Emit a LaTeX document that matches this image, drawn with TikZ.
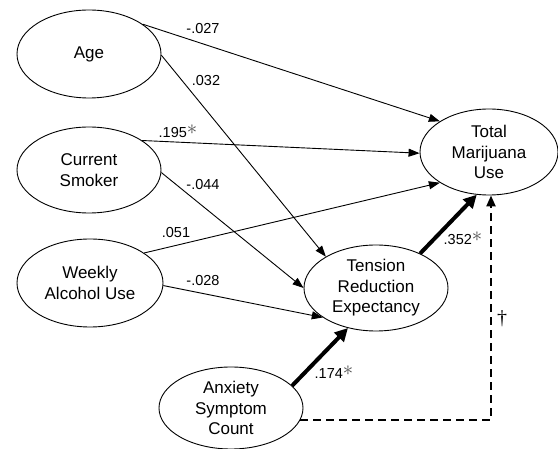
\documentclass[tikz,border=0pt]{standalone}
\usepackage{fontspec}
\setmainfont{Liberation Sans}
\newfontfamily\daggerfont{Liberation Serif}
\usetikzlibrary{shapes.geometric,arrows.meta}
\newcommand{\sigstar}{\textcolor{black!70}{\raisebox{2.5pt}{\fontsize{21}{21}\selectfont$\ast$}}}
\begin{document}
\begin{tikzpicture}[x=1pt,y=-1pt,
  var/.style={ellipse,draw,line width=0.9pt,inner sep=0pt,align=center,
    font=\fontsize{17}{20.5}\selectfont},
  path1/.style={line width=0.9pt,-{Triangle[length=11pt,width=8pt]}},
  path2/.style={line width=4pt,-{Triangle[length=13pt,width=13pt]}},
  dpath/.style={line width=2.2pt,dash pattern=on 8pt off 5pt,-{Triangle[length=11pt,width=9pt]}},
  lab/.style={font=\fontsize{14.5}{17}\selectfont,inner sep=0pt}]
\useasboundingbox (0,0) rectangle (558,449);
\node[var,minimum width=144,minimum height=88] (age) at (89,54) {Age};
\node[var,minimum width=144,minimum height=86] (smoker) at (89,170) {Current\\Smoker};
\node[var,minimum width=146,minimum height=88] (alcohol) at (90,283) {Weekly\\Alcohol Use};
\node[var,minimum width=144,minimum height=82] (anxiety) at (231,408) {Anxiety\\Symptom\\Count};
\node[var,minimum width=144,minimum height=86] (tension) at (376,288) {Tension\\Reduction\\Expectancy};
\node[var,minimum width=138,minimum height=86] (total) at (489,152) {Total\\Marijuana\\Use};

\draw[path1] (age.29) -- (total.148);
\draw[path1] (age.-1) -- (tension.148);
\draw[path1] (smoker.29) -- (total.181);
\draw[path1] (smoker.-2) -- (tension.180);
\draw[path1] (alcohol.29) -- (total.212);
\draw[path1] (alcohol.-2) -- (tension.209);
\draw[path2] (anxiety.20) -- (tension.235);
\draw[path2] (tension.38) -- (total.254);
\draw[dpath] (anxiety.-10) -| ([xshift=2pt]total.south);

\node[lab] (l1) at (203,29) {-.027};
\node[lab] (l2) at (206,81) {.032};
\node[lab] (l3) at (178,131) {.195\sigstar};
\node[lab] (l4) at (203,185) {-.044};
\node[lab] (l5) at (176,233) {.051};
\node[lab] (l6) at (203,281) {-.028};
\node[lab] (l7) at (334,372) {.174\sigstar};
\node[lab] (l8) at (463,238) {.352\sigstar};
\node[lab,font=\daggerfont\fontsize{20}{20}\selectfont] (l9) at (502,319) {†};
\end{tikzpicture}
\end{document}
